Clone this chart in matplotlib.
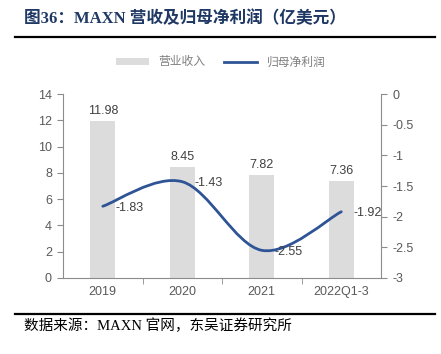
import numpy as np
import matplotlib.pyplot as plt
from matplotlib.path import Path
from matplotlib.patches import PathPatch
from matplotlib.lines import Line2D
from matplotlib.patches import Patch

plt.rcParams['font.family'] = ['Liberation Sans', 'Noto Sans CJK SC']

# 数据
categories = ['2019', '2020', '2021', '2022Q1-3']
revenue = [11.98, 8.45, 7.82, 7.36]
net_profit = [-1.83, -1.43, -2.55, -1.92]

bar_color = '#DCDCDC'
line_color = '#2E5496'
text_gray = '#595959'
axis_gray = '#8C8C8C'

fig = plt.figure(figsize=(4.41, 3.54), dpi=100)
ax = fig.add_axes([0.143, 0.215, 0.721, 0.519])
ax2 = ax.twinx()

x = np.arange(len(categories))
ax.bar(x, revenue, width=0.31, color=bar_color, zorder=1)
for xi, v in zip(x, revenue):
    ax.annotate(f'{v:.2f}', (xi, v), xytext=(0, 3), textcoords='offset points',
                ha='center', va='bottom', fontsize=9, color='#404040')

# 平滑曲线 (Catmull-Rom -> Bezier)
pts = np.column_stack([x, net_profit]).astype(float)
ext = np.vstack([pts[0], pts, pts[-1]])
verts = [tuple(pts[0])]
codes = [Path.MOVETO]
for i in range(len(pts) - 1):
    p0, p1, p2, p3 = ext[i], ext[i + 1], ext[i + 2], ext[i + 3]
    c1 = p1 + (p2 - p0) / 6
    c2 = p2 - (p3 - p1) / 6
    verts += [tuple(c1), tuple(c2), tuple(p2)]
    codes += [Path.CURVE4] * 3
ax2.add_patch(PathPatch(Path(verts, codes), facecolor='none', edgecolor=line_color,
                        lw=2, capstyle='round', zorder=3))
for xi, v in zip(x, net_profit):
    ax2.annotate(f'{v:.2f}', (xi, v), xytext=(9, -1), textcoords='offset points',
                 ha='left', va='center', fontsize=9, color='#404040')

ax.set_xlim(-0.5, 3.5)
ax.set_ylim(0, 14)
ax.set_yticks(np.arange(0, 15, 2))
ax2.set_ylim(-3, 0)
ax2.set_yticks([0, -0.5, -1, -1.5, -2, -2.5, -3])
ax2.set_yticklabels(['0', '-0.5', '-1', '-1.5', '-2', '-2.5', '-3'])

ax.set_xticks(x)
ax.set_xticklabels(categories)
ax.set_xticks([0.5, 1.5, 2.5], minor=True)
ax.tick_params(axis='x', which='major', length=0, pad=6, labelsize=9, colors=text_gray)
ax.tick_params(axis='x', which='minor', length=4, color=axis_gray, direction='out')
ax.tick_params(axis='y', length=4, color=axis_gray, labelsize=9, labelcolor=text_gray, pad=4)
ax2.tick_params(axis='y', length=4, color=axis_gray, labelsize=9, labelcolor=text_gray, pad=4)

for a in (ax, ax2):
    a.spines['top'].set_visible(False)
    for s in ('left', 'right', 'bottom'):
        a.spines[s].set_color(axis_gray)
ax.spines['right'].set_visible(False)
ax2.spines['left'].set_visible(False)
ax2.spines['bottom'].set_visible(False)

handles = [Patch(facecolor=bar_color, edgecolor='none'),
           Line2D([0], [0], color=line_color, lw=2)]
fig.legend(handles, ['营业收入', '归母净利润'], loc='center', bbox_to_anchor=(0.5, 0.825),
           ncol=2, frameon=False, handlelength=2.8, handleheight=0.5,
           columnspacing=1.6, labelcolor='#7F7F7F', prop={'family': ['Noto Sans CJK SC'], 'size': 8.5})

serif = ['Liberation Serif', 'Noto Sans CJK SC']
fig.text(0.055, 0.948, '图36：MAXN 营收及归母净利润（亿美元）', family=serif, fontsize=12,
         fontweight='bold', color='#1F3864', ha='left', va='center')
fig.add_artist(Line2D([0.034, 0.986], [0.895, 0.895], color='black', lw=1.6))
fig.add_artist(Line2D([0.034, 0.986], [0.113, 0.113], color='black', lw=1.6))
fig.text(0.055, 0.08, '数据来源：MAXN 官网，东吴证券研究所', family=serif, fontsize=10.5,
         color='black', ha='left', va='center')

fig.savefig('out.png', dpi=100)
